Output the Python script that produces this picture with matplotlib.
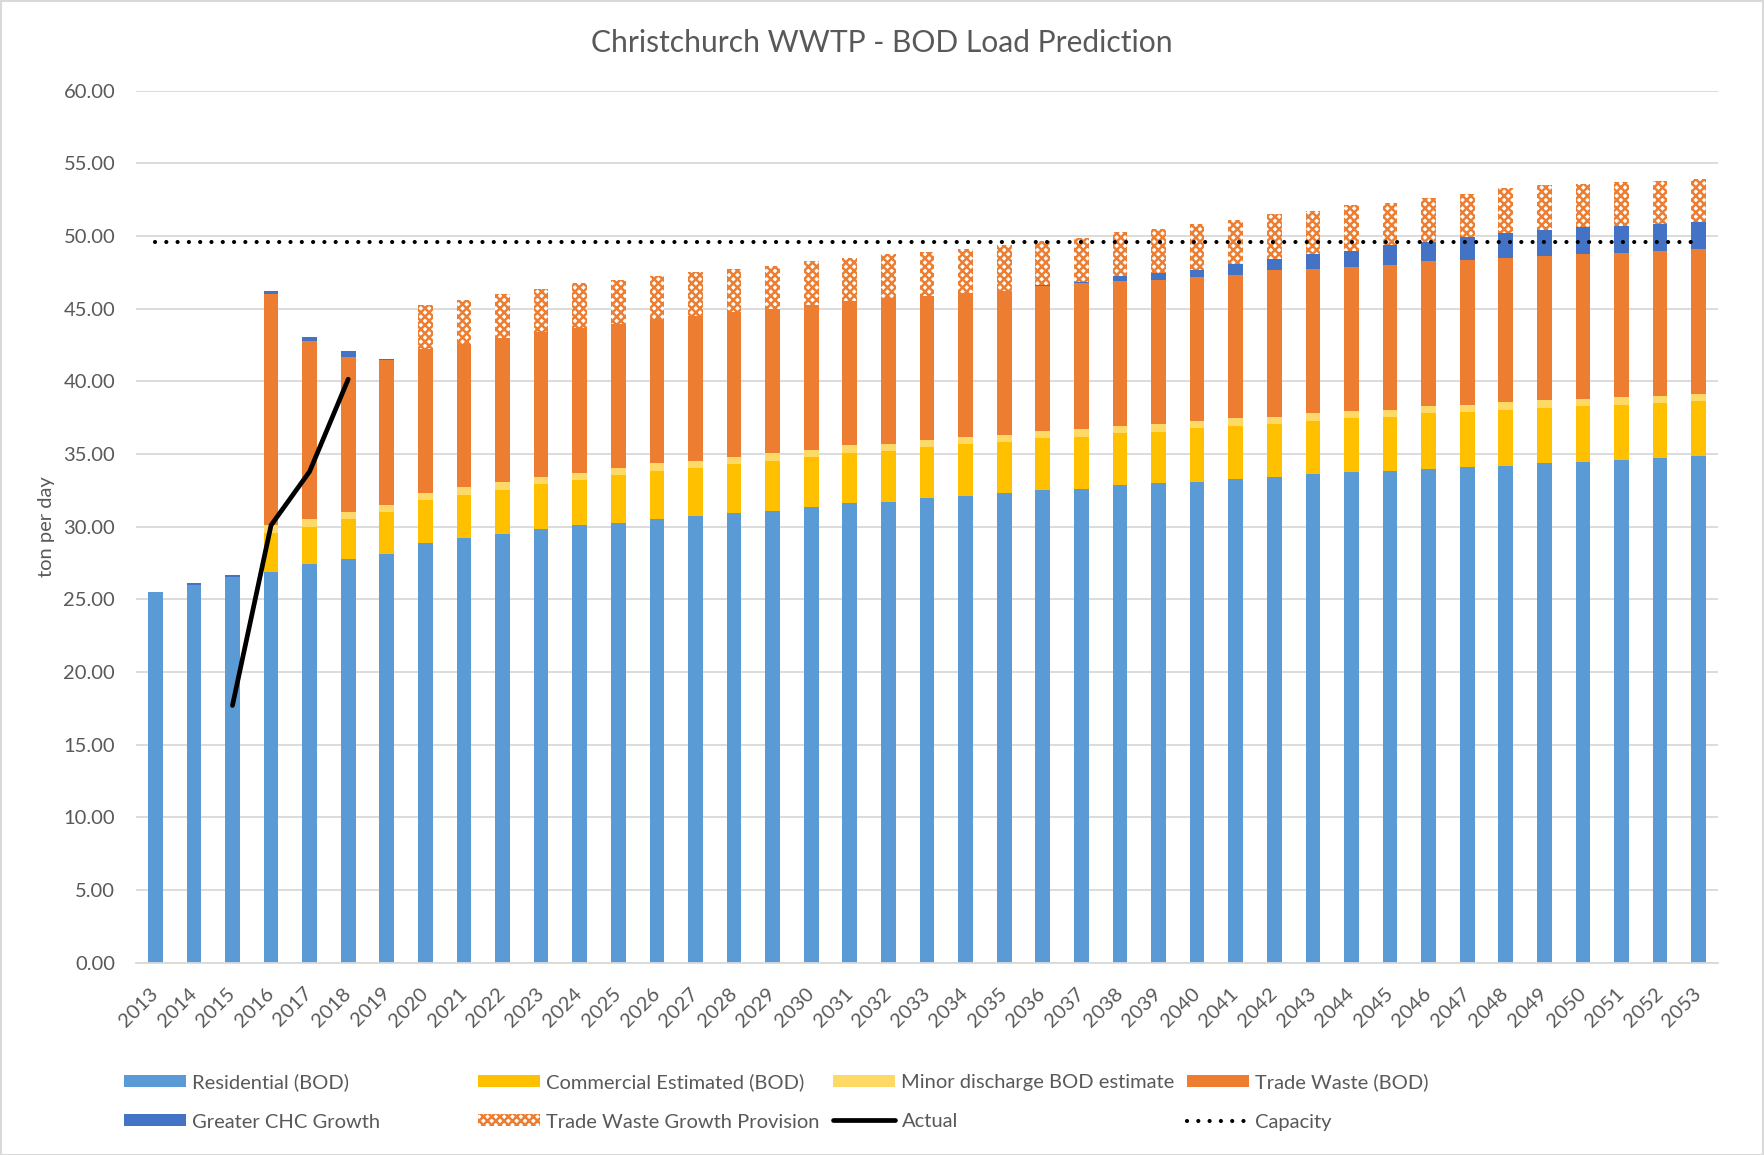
import matplotlib
matplotlib.use("Agg")
import matplotlib.pyplot as plt
import numpy as np
from matplotlib.patches import Rectangle, Patch
from matplotlib.lines import Line2D

plt.rcParams['font.family'] = ['Lato', 'DejaVu Sans']
plt.rcParams['hatch.linewidth'] = 1.8

years = list(range(2013, 2054))

residential = [25.5, 26.0, 26.55, 26.9, 27.4, 27.75, 28.15, 28.85, 29.25, 29.5,
               29.85, 30.1, 30.25, 30.5, 30.75, 30.95, 31.1, 31.35, 31.6, 31.7,
               31.95, 32.1, 32.35, 32.5, 32.6, 32.85, 33.0, 33.1, 33.25, 33.45,
               33.6, 33.75, 33.85, 33.95, 34.1, 34.2, 34.35, 34.45, 34.6, 34.7, 34.85]
commercial = [0, 0, 0, 2.7, 2.6, 2.75, 2.85, 3.0, 2.95, 3.05,
              3.1, 3.1, 3.3, 3.35, 3.3, 3.35, 3.45, 3.45, 3.5, 3.5,
              3.5, 3.6, 3.45, 3.6, 3.6, 3.6, 3.55, 3.7, 3.7, 3.6,
              3.7, 3.7, 3.7, 3.85, 3.8, 3.85, 3.85, 3.85, 3.8, 3.8, 3.8]
minor = [0, 0, 0] + [0.5] * 38
trade_waste = [0, 0, 0, 15.9, 12.3, 10.7, 9.95, 9.9, 9.9, 9.95,
               9.95, 9.95, 9.9, 9.95, 9.95, 9.95, 9.9, 9.95, 9.9, 10.05,
               9.95, 9.9, 9.9, 9.95, 10.05, 9.95, 9.95, 9.9, 9.9, 10.1,
               9.95, 9.95, 9.95, 9.95, 9.95, 9.95, 9.95, 9.95, 9.95, 9.95, 9.95]
chc_growth = [0, 0.1, 0.1, 0.25, 0.25, 0.4, 0.1, 0, 0, 0,
              0, 0, 0, 0, 0, 0, 0, 0, 0, 0,
              0, 0, 0, 0.1, 0.1, 0.35, 0.45, 0.45, 0.75, 0.75,
              1.0, 1.1, 1.35, 1.35, 1.6, 1.7, 1.75, 1.85, 1.85, 1.85, 1.85]
tw_provision = [0, 0, 0, 0, 0, 0, 0, 3.0, 3.0, 3.0,
                2.95, 3.1, 3.0, 2.95, 3.0, 2.95, 3.0, 3.0, 3.0, 3.0,
                3.0, 3.0, 3.15, 3.0, 3.0, 3.0, 3.0, 3.15, 3.0, 3.1,
                3.0, 3.15, 2.95, 3.0, 2.95, 3.1, 3.1, 3.0, 3.0, 3.0, 2.95]
actual = [np.nan, np.nan, 17.7, 30.1, 33.8, 40.15] + [np.nan] * 35
capacity = [49.6] * 41

series_names = ["Residential (BOD)", "Commercial Estimated (BOD)", "Minor discharge BOD estimate",
                "Trade Waste (BOD)", "Greater CHC Growth", "Trade Waste Growth Provision"]
colors = ["#5B9BD5", "#FFC000", "#FFD966", "#ED7D31", "#4472C4"]
hatch_color = "#ED7D31"
hatch_face = "white"
hatch_pat = 'xxxx'
text_color = "#595959"
grid_color = "#D9D9D9"
fs = 14.5

W, H = 1764, 1155
fig = plt.figure(figsize=(W / 100, H / 100), dpi=100)
ax = fig.add_axes([136 / W, 1 - 962.7 / H, (1718 - 136) / W, (962.7 - 90.7) / H])

x = np.arange(len(years))
bw = 0.38
bottom = np.zeros(len(years))
handles = []
for vals, name, col in zip([residential, commercial, minor, trade_waste, chc_growth],
                           series_names[:5], colors):
    v = np.array(vals, dtype=float)
    ax.bar(x, v, bw, bottom=bottom, color=col, edgecolor='none', zorder=2, label=name)
    handles.append(Patch(facecolor=col, edgecolor='none', label=name))
    bottom += v
v = np.array(tw_provision, dtype=float)
ax.bar(x, v, bw, bottom=bottom, facecolor=hatch_face, edgecolor=hatch_color, hatch=hatch_pat,
       linewidth=0, zorder=2)
handles.append(Patch(facecolor=hatch_face, edgecolor=hatch_color, hatch=hatch_pat, linewidth=0,
                     label=series_names[5]))

ax.plot(x, actual, color='black', lw=3.4, solid_capstyle='round', solid_joinstyle='round',
        zorder=4)
ax.plot(x, capacity, color='black', lw=3.0, linestyle=(0, (0.01, 2.7)),
        dash_capstyle='round', zorder=4)
h_actual = Line2D([], [], color='black', lw=3.4, solid_capstyle='round', label='Actual')
h_cap = Line2D([], [], color='black', lw=3.0, linestyle=(0, (0.01, 2.7)),
               dash_capstyle='round', label='Capacity')

ax.set_xlim(-0.5, len(years) - 0.5)
ax.set_ylim(0, 60)
ax.set_yticks(np.arange(0, 61, 5))
ax.set_yticklabels([f"{t:.2f}" for t in np.arange(0, 61, 5)])
ax.set_xticks(x)
ax.set_xticklabels([str(y) for y in years], rotation=45, ha='right', va='center',
                   rotation_mode='anchor')
ax.tick_params(axis='both', length=0, labelsize=fs, labelcolor=text_color)
ax.tick_params(axis='y', pad=15)
ax.tick_params(axis='x', pad=20)
ax.grid(axis='y', color=grid_color, lw=1.3, zorder=0)
ax.set_axisbelow(True)
for s in ['top', 'right', 'left']:
    ax.spines[s].set_visible(False)
ax.spines['bottom'].set_color(grid_color)
ax.spines['bottom'].set_linewidth(1.3)

ax.set_ylabel("ton per day", fontsize=fs, color=text_color, labelpad=6)

fig.text(0.5, 1 - 43.5 / H, "Christchurch WWTP - BOD Load Prediction", ha='center', va='center',
         fontsize=21.6, color=text_color)

cols = [
    [handles[0], handles[4]],
    [handles[1], handles[5]],
    [handles[2], h_actual],
    [handles[3], h_cap],
]
col_x = [124, 478, 833, 1187]
for hs, cx in zip(cols, col_x):
    leg = fig.legend(handles=hs, loc='center left', bbox_to_anchor=(cx / W, 1 - 1102 / H),
                     frameon=False, fontsize=fs, handlelength=3.1, handleheight=0.55,
                     handletextpad=0.3, labelspacing=1.1, borderpad=0, borderaxespad=0)
    for t in leg.get_texts():
        t.set_color(text_color)

fig.patches.append(Rectangle((0.5 / W, 0.5 / H), 1 - 1.5 / W, 1 - 1.5 / H, transform=fig.transFigure,
                             fill=False, edgecolor=grid_color, lw=1.5))

fig.savefig("out.png", dpi=100)
